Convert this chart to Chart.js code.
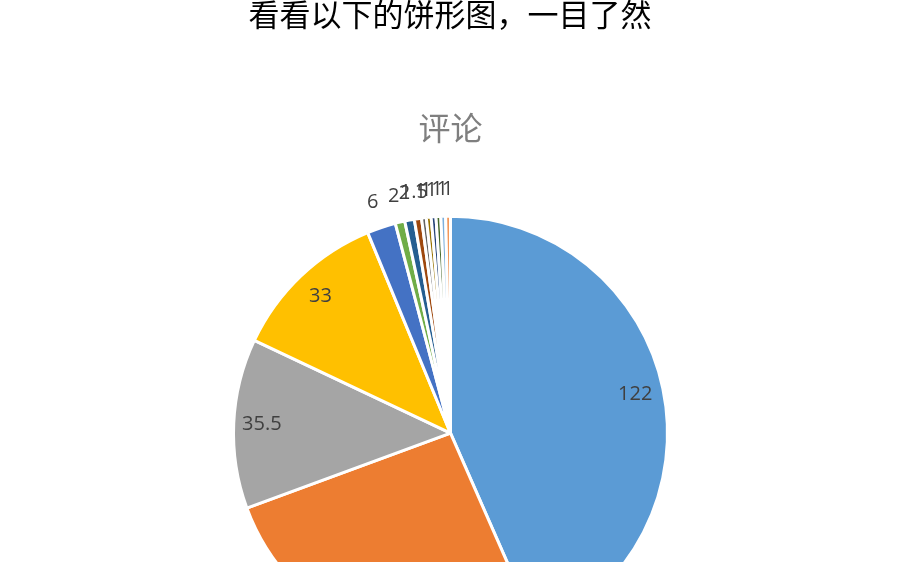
<!DOCTYPE html>
<html>
<head>
<meta charset="utf-8">
<title>评论</title>
<script src="https://cdn.jsdelivr.net/npm/chart.js@4.4.0/dist/chart.umd.min.js"></script>
<style>
    html, body {
        margin: 0;
        padding: 0;
        background: #fff;
        width: 900px;
        height: 562px;
        overflow: hidden;
    }
    #heading {
        position: absolute;
        left: 0;
        top: -3px;
        width: 900px;
        text-align: center;
        font-family: "Noto Sans CJK SC", sans-serif;
        font-size: 31px;
        line-height: 31px;
        color: #000;
        z-index: 2;
    }
    #wrap {
        position: absolute;
        left: 0;
        top: 0;
        width: 900px;
        height: 700px;
    }
</style>
</head>
<body>
<div id="heading">看看以下的饼形图，一目了然</div>
<div id="wrap"><canvas id="commentPie" width="900" height="700"></canvas></div>
<script>
// categories are not shown on the picture, only the values
const categories = [
    "项目1", "项目2", "项目3", "项目4", "项目5", "项目6", "项目7",
    "项目8", "项目9", "项目10", "项目11", "项目12", "项目13", "项目14"
];
const values = [122, 73, 35.5, 33, 6, 2, 2, 1.5, 1, 1, 1, 1, 1, 1];
const sliceColors = [
    "#5B9BD5", "#ED7D31", "#A5A5A5", "#FFC000", "#4472C4", "#70AD47", "#255E91",
    "#9E480E", "#636363", "#997300", "#264478", "#43682B", "#7CAFDD", "#F1975A"
];
const chartTitle = "评论";

// draw the value labels: big slices inside, small ones just outside the rim
const sliceLabels = {
    id: "sliceLabels",
    afterDatasetsDraw(chart) {
        const ctx = chart.ctx;
        const meta = chart.getDatasetMeta(0);
        ctx.save();
        ctx.font = '20px "Open Sans", sans-serif';
        ctx.fillStyle = "#404040";
        ctx.textAlign = "center";
        ctx.textBaseline = "middle";
        meta.data.forEach((arc, i) => {
            const v = chart.data.datasets[0].data[i];
            const mid = (arc.startAngle + arc.endAngle) / 2;
            const r = v >= 10 ? arc.outerRadius * 0.87 : arc.outerRadius + 27;
            ctx.fillText(String(v), arc.x + Math.cos(mid) * r, arc.y + Math.sin(mid) * r);
        });
        ctx.restore();
    }
};

const data = {
    labels: categories,
    datasets: [
        {
            data: values,
            backgroundColor: sliceColors,
            borderColor: "#ffffff",
            borderWidth: 3,
        },
    ],
};

const config = {
    type: "pie",
    data: data,
    options: {
        responsive: false,
        animation: false,
        layout: {
            padding: { left: 232, right: 231, top: 0, bottom: 48 },
        },
        plugins: {
            legend: { display: false },
            tooltip: { enabled: false },
            title: {
                display: true,
                text: chartTitle,
                color: "#7f7f7f",
                font: { family: '"Noto Sans CJK SC", sans-serif', size: 32, weight: "normal" },
                padding: { top: 109, bottom: 67 },
            },
        },
    },
    plugins: [sliceLabels],
};

const ctx = document.getElementById("commentPie").getContext("2d");
const commentChart = new Chart(ctx, config);
</script>
</body>
</html>
